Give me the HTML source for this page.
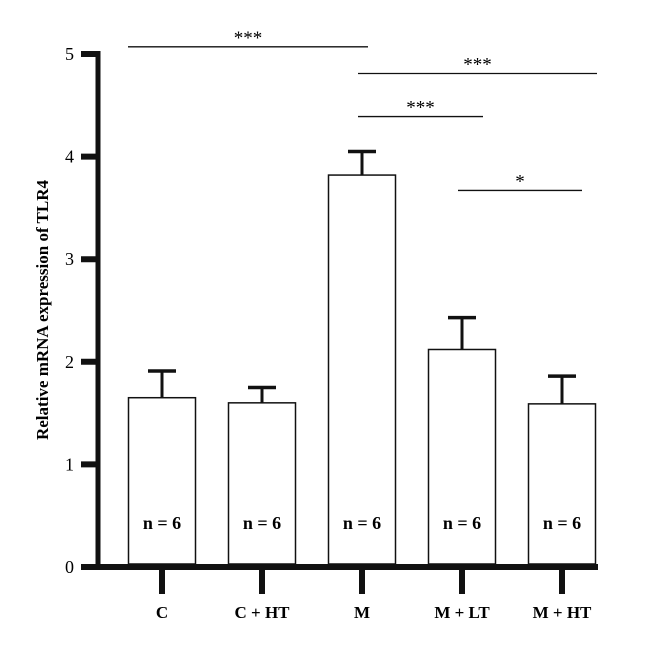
<!DOCTYPE html>
<html><head><meta charset="utf-8"><style>
html,body{margin:0;padding:0;background:#fff;}
svg{display:block;font-family:"Liberation Serif",serif;}
</style></head><body>
<svg width="660" height="651" id="chart"></svg>
<script>
const categories = ["C","C + HT","M","M + LT","M + HT"];
const values = [1.65, 1.60, 3.82, 2.12, 1.59];
const errors = [0.26, 0.15, 0.23, 0.31, 0.27];
const nLabels = ["n = 6","n = 6","n = 6","n = 6","n = 6"];
const yTicks = [0,1,2,3,4,5];
const sigFrom = [0, 2, 2, 3];
const sigTo = [2, 4, 3, 4];
const sigLevel = [5.07, 4.81, 4.39, 3.67];
const sigText = ["***","***","***","*"];

const NS="http://www.w3.org/2000/svg";
const svg=document.getElementById('chart');
const y0=567, yPerUnit=102.6;
function y(v){return y0 - v*yPerUnit;}
function xc(i){return 162 + i*100;}
function mk(tag,attrs,text){const e=document.createElementNS(NS,tag);for(const k in attrs)e.setAttribute(k,attrs[k]);if(text!==undefined)e.textContent=text;svg.appendChild(e);return e;}

values.forEach((v,i)=>{
  const r=mk('rect',{x:xc(i)-33.5,y:y(v),width:67,height:564-y(v),fill:'#fff',stroke:'#111','stroke-width':1.5});
  
  
  const e=mk('line',{x1:xc(i),x2:xc(i),y1:y(v),y2:y(v+errors[i]),stroke:'#111','stroke-width':3});
  
  
  const c=mk('line',{x1:xc(i)-14,x2:xc(i)+14,y1:y(v+errors[i]),y2:y(v+errors[i]),stroke:'#111','stroke-width':3.5});
  
  
  const n=mk('text',{x:xc(i),y:529,'text-anchor':'middle','font-size':18,'font-weight':'bold'},nLabels[i]);
  
  
  const t=mk('line',{x1:xc(i),x2:xc(i),y1:567,y2:594,stroke:'#111','stroke-width':6});
  
  
  const l=mk('text',{x:xc(i),y:618,'text-anchor':'middle','font-size':17,'font-weight':'bold'},categories[i]);
  
  
});
const ya=mk('line',{x1:98,x2:98,y1:51,y2:570,stroke:'#111','stroke-width':5});


const xa=mk('line',{x1:81,x2:598,y1:567,y2:567,stroke:'#111','stroke-width':6});


yTicks.forEach(v=>{
  const t=mk('line',{x1:81,x2:98,y1:y(v),y2:y(v),stroke:'#111','stroke-width':6});
  
  
  const l=mk('text',{x:74,y:y(v)+6,'text-anchor':'end','font-size':18},String(v));
  
  
});
const yt=mk('text',{x:0,y:0,'text-anchor':'middle','font-size':17,'font-weight':'bold',transform:'translate(48,310) rotate(-90)'},'Relative mRNA expression of TLR4');


sigFrom.forEach((a,k)=>{
  const b=sigTo[k];
  const x1 = a===0 ? 128 : xc(a)-4;
  const x2 = b===2 ? xc(b)+6 : (b===3 ? xc(b)+21 : (k===1 ? xc(b)+35 : xc(b)+20));
  const s=mk('line',{x1:x1,x2:x2,y1:y(sigLevel[k]),y2:y(sigLevel[k]),stroke:'#111','stroke-width':1.3});
  
  
  const t=mk('text',{x:(x1+x2)/2,y:y(sigLevel[k])-3,'text-anchor':'middle','font-size':19},sigText[k]);
  
  
});
</script>
</body></html>
